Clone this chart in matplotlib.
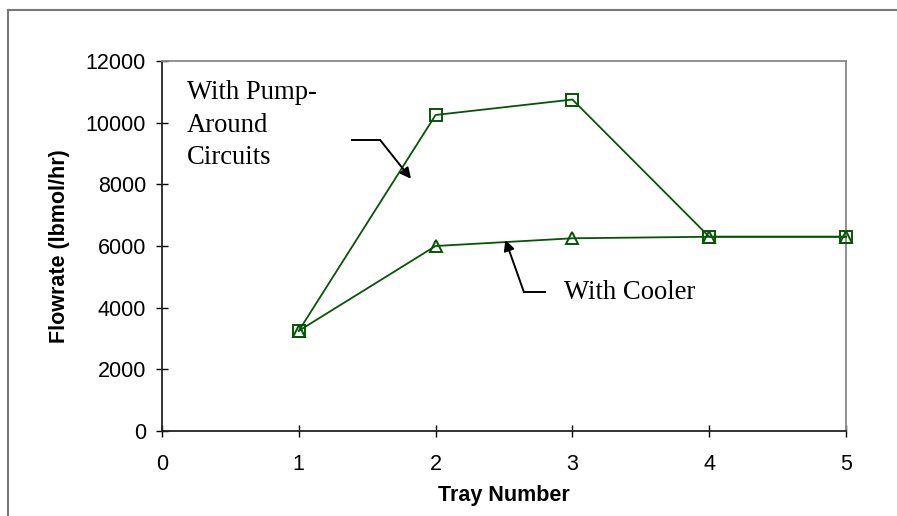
import matplotlib
matplotlib.use("Agg")
import matplotlib.pyplot as plt
from matplotlib.lines import Line2D

trays = [1, 2, 3, 4, 5]
pump_around = [3250, 10250, 10750, 6300, 6300]
cooler = [3250, 6000, 6250, 6300, 6300]
x_ticks = [0, 1, 2, 3, 4, 5]
y_ticks = [0, 2000, 4000, 6000, 8000, 10000, 12000]

green = "#065506"

fig = plt.figure(figsize=(8.97, 5.16), dpi=100)
ax = fig.add_axes([162/897, 1-431/516, (846-162)/897, (431-61)/516])

ax.plot(trays, pump_around, color=green, lw=1.3, marker="s", ms=9,
        mfc="none", mec=green, mew=1.4, clip_on=False, zorder=3)
ax.plot(trays, cooler, color=green, lw=1.3, marker="^", ms=9,
        mfc="none", mec=green, mew=1.4, clip_on=False, zorder=3)

ax.set_xlim(0, 5)
ax.set_ylim(0, 12000)
ax.set_xticks(x_ticks)
ax.set_yticks(y_ticks)
ax.tick_params(direction="inout", length=8, width=1, labelsize=15.5,
               colors="black")
ax.tick_params(axis="y", pad=7.5)
ax.tick_params(axis="x", pad=12.5)
for lab in ax.get_xticklabels() + ax.get_yticklabels():
    lab.set_fontfamily("Liberation Sans")

for s in ["left", "bottom"]:
    ax.spines[s].set_color("#222222")
    ax.spines[s].set_linewidth(1.3)
for s in ["top", "right"]:
    ax.spines[s].set_color("#888888")
    ax.spines[s].set_linewidth(1.3)

ax.set_xlabel("Tray Number", fontsize=15.5, fontweight="bold",
              family="Liberation Sans", labelpad=7)
ax.set_ylabel("Flowrate (lbmol/hr)", fontsize=15.5, fontweight="bold",
              family="Liberation Sans", labelpad=11)

serif = "Liberation Serif"
ax.text(0.18, 11384, "With Pump-\nAround\nCircuits", fontsize=19.2,
        family=serif, va="top", ha="left", linespacing=1.4)
ax.text(2.94, 4500, "With Cooler", fontsize=19.2, family=serif,
        va="center", ha="left")

# pump-around arrow (elbow)
ax.plot([1.389, 1.594], [9440, 9440], color="black", lw=1.4)
ax.annotate("", xy=(1.82, 8180), xytext=(1.594, 9440),
            arrowprops=dict(arrowstyle="-|>", color="black", lw=1.4,
                            mutation_scale=16, shrinkA=0, shrinkB=0))
# cooler arrow (elbow)
ax.plot([2.80, 2.646], [4500, 4500], color="black", lw=1.4)
ax.annotate("", xy=(2.51, 6200), xytext=(2.646, 4500),
            arrowprops=dict(arrowstyle="-|>", color="black", lw=1.4,
                            mutation_scale=16, shrinkA=0, shrinkB=0))

# outer chart frame
fig.add_artist(Line2D([8/897, 8/897], [0, 1-10/516], color="#777777",
                      lw=1.5, transform=fig.transFigure))
fig.add_artist(Line2D([8/897, 1], [1-10/516, 1-10/516], color="#777777",
                      lw=1.5, transform=fig.transFigure))

fig.savefig("out.png", dpi=100)
